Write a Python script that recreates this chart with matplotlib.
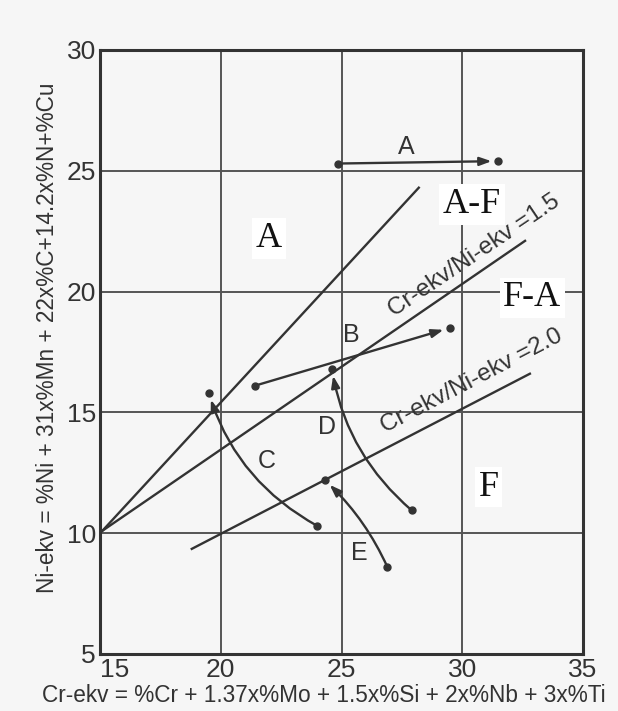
import matplotlib
matplotlib.use("Agg")
import matplotlib.pyplot as plt

# boundary lines of the Schaeffler-type diagram (Cr-ekv, Ni-ekv)
af_line_x = [15.1, 28.2]
af_line_y = [10.1, 24.3]
ratio15_x = [15.1, 32.6]
ratio15_y = [10.1, 22.1]
ratio20_x = [18.8, 32.8]
ratio20_y = [9.35, 16.6]

# composition shifts: name -> (start, end, curvature)
shift_names = ["A", "B", "C", "D", "E"]
shift_start = [(24.85, 25.3), (21.4, 16.1), (24.0, 10.3), (27.9, 10.95), (26.9, 8.6)]
shift_end = [(31.5, 25.4), (29.5, 18.5), (19.5, 15.8), (24.6, 16.8), (24.3, 12.2)]
shift_rad = [0.0, 0.0, -0.2, -0.18, 0.1]
shift_label_pos = [(27.7, 26.0), (25.4, 18.2), (21.9, 13.0), (24.4, 14.4), (25.75, 9.2)]

# phase fields
phase_names = ["A", "A-F", "F-A", "F"]
phase_pos = [(22.0, 22.2), (30.4, 23.6), (32.9, 19.75), (31.1, 11.9)]

x_ticks = [15, 20, 25, 30, 35]
y_ticks = [5, 10, 15, 20, 25, 30]

ink = "#333333"
bg = "#f6f6f6"

fig = plt.figure(figsize=(6.18, 7.11), dpi=100, facecolor=bg)
ax = fig.add_axes([0.1618, 0.0802, 0.7816, 0.8495])
ax.set_facecolor(bg)
ax.set_xlim(15, 35)
ax.set_ylim(5, 30)

ax.set_xticks(x_ticks)
ax.set_yticks(y_ticks)
ax.tick_params(length=0, pad=3, labelsize=19, colors=ink)
for lab in ax.get_xticklabels() + ax.get_yticklabels():
    lab.set_family("Liberation Sans")
ax.get_xticklabels()[0].set_ha("left")
ax.grid(True, color="#555555", lw=1.4)
ax.set_axisbelow(True)
for sp in ax.spines.values():
    sp.set_color(ink)
    sp.set_linewidth(2.2)

ax.plot(af_line_x, af_line_y, color=ink, lw=1.7)
ax.plot(ratio15_x, ratio15_y, color=ink, lw=1.7)
ax.plot(ratio20_x, ratio20_y, color=ink, lw=1.7)

ax.text(30.48, 21.5, "Cr-ekv/Ni-ekv =1.5", rotation=34, ha="center", va="center",
        fontsize=17.5, color=ink, family="Liberation Sans", rotation_mode="anchor")
ax.text(30.37, 16.3, "Cr-ekv/Ni-ekv =2.0", rotation=27.5, ha="center", va="center",
        fontsize=17.5, color=ink, family="Liberation Sans", rotation_mode="anchor")

for name, s, e, r, lp in zip(shift_names, shift_start, shift_end, shift_rad, shift_label_pos):
    ax.annotate("", xy=e, xytext=s,
                arrowprops=dict(arrowstyle="-|>,head_length=0.7,head_width=0.25",
                                connectionstyle=f"arc3,rad={r}", color=ink, lw=1.7,
                                shrinkA=0, shrinkB=5))
    ax.plot([s[0], e[0]], [s[1], e[1]], ls="none", marker="o", ms=5, color=ink)
    ax.text(lp[0], lp[1], name, ha="center", va="center", fontsize=18,
            color=ink, family="Liberation Sans")

for name, p in zip(phase_names, phase_pos):
    ax.text(p[0], p[1], name, ha="center", va="center", fontsize=26,
            color="#111111", family="Liberation Serif",
            bbox=dict(boxstyle="square,pad=0.1", fc="white", ec="none"))

ax.set_xlabel("Cr-ekv = %Cr + 1.37x%Mo + 1.5x%Si + 2x%Nb + 3x%Ti",
              fontsize=16.3, color=ink, family="Liberation Sans")
ax.set_ylabel("Ni-ekv = %Ni + 31x%Mn + 22x%C+14.2x%N+%Cu",
              fontsize=16.3, color=ink, family="Liberation Sans")
ax.xaxis.set_label_coords(0.464, -0.050)
ax.yaxis.set_label_coords(-0.085, 0.523)

fig.savefig("out.png", dpi=100, facecolor=bg)
